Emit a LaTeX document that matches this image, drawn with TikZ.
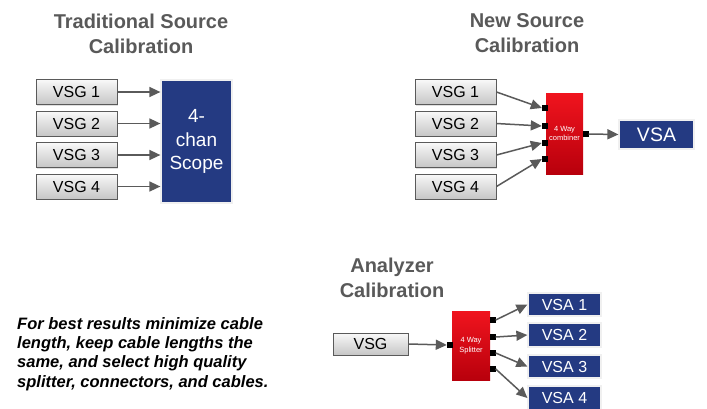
\documentclass[tikz,border=0pt]{standalone}
\usepackage{fontspec}
\setmainfont{Liberation Sans}
\usetikzlibrary{arrows.meta,shadows}
\definecolor{ttl}{HTML}{595959}
\definecolor{navy}{HTML}{243A82}
\definecolor{redtop}{HTML}{F0141E}
\definecolor{redbot}{HTML}{B8000C}
\definecolor{wire}{HTML}{5A5A5A}
\tikzset{
  ttlstyle/.style={font=\bfseries\fontsize{20}{25}\selectfont, text=ttl, align=center},
  vsgbox/.style={draw=wire, line width=1pt, top color=gray!5, bottom color=gray!45,
     minimum width=81pt, minimum height=25pt, inner sep=0pt,
     font=\fontsize{16}{18}\selectfont,
     drop shadow={opacity=0.25, shadow xshift=1pt, shadow yshift=-1pt}},
  navybox/.style={fill=navy, draw=white!88!gray, line width=1.2pt, text=white, inner sep=0pt,
     drop shadow={opacity=0.25, shadow xshift=1.2pt, shadow yshift=-1.2pt}},
  redbox/.style={top color=redtop, bottom color=redbot, draw=none, inner sep=0pt, text=white,
     align=center, font=\fontsize{7.5}{9.5}\selectfont},
  portbox/.style={fill=black, draw=none, minimum size=6pt, inner sep=0pt},
  wirearrow/.style={draw=wire, line width=1.5pt, -{Triangle[length=11pt,width=10pt]}},
}
\begin{document}
\begin{tikzpicture}[x=1pt,y=-1pt]
\useasboundingbox (0,0) rectangle (707,408);
% ---------------- Traditional ----------------
\node[ttlstyle] (t1) at (141,33.5) {Traditional Source\\Calibration};
\node[vsgbox] (l1) at (76.5,92) {VSG 1};
\node[vsgbox] (l2) at (76.5,123.5) {VSG 2};
\node[vsgbox] (l3) at (76.5,155) {VSG 3};
\node[vsgbox] (l4) at (76.5,186.5) {VSG 4};
\node[navybox, minimum width=71pt, minimum height=123pt, align=center,
      font=\fontsize{19}{23.5}\selectfont] (scope) at (196.5,141.5) {4-\\chan\\Scope};
\foreach \i in {1,...,4}{
  \draw[wirearrow] (l\i.east) -- (l\i.east -| scope.west);
}
% ---------------- New Source ----------------
\node[ttlstyle] (t2) at (527,33.5) {New Source\\Calibration};
\node[vsgbox] (m1) at (455.5,92) {VSG 1};
\node[vsgbox] (m2) at (455.5,123.5) {VSG 2};
\node[vsgbox] (m3) at (455.5,155) {VSG 3};
\node[vsgbox] (m4) at (455.5,186.5) {VSG 4};
\node[redbox, minimum width=37pt, minimum height=81pt] (comb) at (564.5,133.5) {4 Way\\combiner};
\node[portbox] (mp1) at (545,108) {};
\node[portbox] (mp2) at (545,126) {};
\node[portbox] (mp3) at (545,143) {};
\node[portbox] (mp4) at (545,159) {};
\node[portbox] (mpo) at (585.5,134) {};
\node[navybox, minimum width=75pt, minimum height=29pt, font=\fontsize{19.5}{22}\selectfont] (vsa) at (656.5,134.5) {VSA};
\foreach \i in {1,...,4}{
  \draw[wirearrow] (m\i.east) -- (mp\i.west);
}
\draw[wirearrow] (mpo.east) -- (vsa.west);
% ---------------- Analyzer ----------------
\node[ttlstyle] (t3) at (392,278) {Analyzer\\Calibration};
\node[vsgbox, minimum width=75pt, minimum height=22pt] (g) at (370.5,344) {VSG};
\node[redbox, minimum width=38pt, minimum height=69pt] (split) at (471,345.5) {4 Way\\Splitter};
\node[portbox] (sp) at (450,345) {};
\node[portbox] (so1) at (492.5,320) {};
\node[portbox] (so2) at (492.5,337) {};
\node[portbox] (so3) at (492.5,353) {};
\node[portbox] (so4) at (492.5,369) {};
\node[navybox, minimum width=73pt, minimum height=23pt, font=\fontsize{16}{18}\selectfont] (a1) at (564.5,304.5) {VSA 1};
\node[navybox, minimum width=73pt, minimum height=24pt, font=\fontsize{16}{18}\selectfont] (a2) at (564.5,335) {VSA 2};
\node[navybox, minimum width=73pt, minimum height=23pt, font=\fontsize{16}{18}\selectfont] (a3) at (564.5,366.5) {VSA 3};
\node[navybox, minimum width=73pt, minimum height=24pt, font=\fontsize{16}{18}\selectfont] (a4) at (564.5,398) {VSA 4};
\draw[wirearrow] (g.east) -- (sp.west);
\foreach \i in {1,...,4}{
  \draw[wirearrow] (so\i.east) -- (a\i.west);
}
% ---------------- Note ----------------
\node[anchor=north west, align=left, inner sep=0pt,
      font=\bfseries\itshape\fontsize{16.5}{19.3}\selectfont] (note) at (17,317)
  {For best results minimize cable\\length, keep cable lengths the\\same, and select high quality\\splitter, connectors, and cables.};
\end{tikzpicture}
\end{document}
